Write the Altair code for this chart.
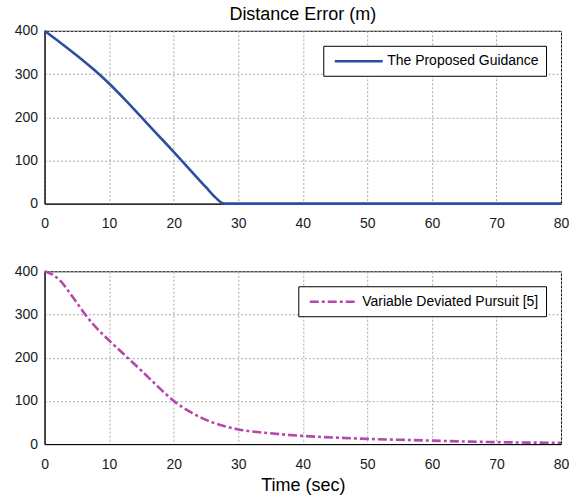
import altair as alt
import pandas as pd

# Proposed guidance (top panel)
t_prop = [0, 2.5, 5, 7.5, 10, 12.5, 15, 17.5, 20, 22.5, 25, 26.5, 27.5, 28, 30, 40, 50, 60, 70, 80]
d_prop = [400, 372, 343, 312, 278, 240, 200, 160, 120, 79, 38, 14, 1.5, 0, 0, 0, 0, 0, 0, 0]

# Variable deviated pursuit (bottom panel)
t_vdp = [0, 1.25, 2.5, 3.75, 5, 6.25, 7.5, 10, 12.5, 15, 17.5, 20, 22.5, 25, 27.5, 30, 35, 40, 45, 50, 55, 60, 65, 70, 75, 80]
d_vdp = [400, 392, 377, 353, 327, 301, 278, 240, 205, 170, 134, 100, 75, 56, 43, 34, 25, 19, 15, 12, 10, 8, 6, 4.5, 3.5, 3]

name_prop = "The Proposed Guidance"
name_vdp = "Variable Deviated Pursuit [5]"
x_ticks = [0, 10, 20, 30, 40, 50, 60, 70, 80]
y_ticks = [0, 100, 200, 300, 400]

FONT = "Liberation Sans"
W, H = 517, 173
SYMBOL = "M-0.571,0H6.286"


def panel(t, d, name, color, dash, title=None, xtitle=None):
    df = pd.DataFrame({"t": t, "d": d, "series": [name] * len(t)})
    legend = alt.Legend(
        title=None, orient="top-right", offset=15, strokeColor="black",
        fillColor="white", padding=7, symbolType=SYMBOL, symbolSize=196,
        symbolStrokeWidth=2.5, labelFontSize=14, labelFont=FONT,
        labelColor="black", labelOffset=40, cornerRadius=0, labelLimit=400,
    )
    enc = dict(
        x=alt.X("t:Q", scale=alt.Scale(domain=[0, 80], nice=False),
                axis=alt.Axis(values=x_ticks, title=xtitle, format="d", labelFlush=False)),
        y=alt.Y("d:Q", scale=alt.Scale(domain=[0, 400], nice=False),
                axis=alt.Axis(values=y_ticks, title=None, format="d", labelFlush=False)),
        color=alt.Color("series:N", scale=alt.Scale(domain=[name], range=[color]), legend=legend),
        order="t:Q",
    )
    if dash is not None:
        enc["strokeDash"] = alt.StrokeDash("series:N", scale=alt.Scale(domain=[name], range=[dash]), legend=legend)
    ch = alt.Chart(df).mark_line(strokeWidth=2.6, interpolate="monotone").encode(**enc).properties(width=W, height=H)
    if title:
        ch = ch.properties(title=alt.TitleParams(title, fontSize=18, fontWeight="normal", font=FONT,
                                                 color="black", anchor="middle", frame="group", offset=0))
    return ch


top = panel(t_prop, d_prop, name_prop, "#2b4ea2", None, title="Distance Error (m)")
bottom = panel(t_vdp, d_vdp, name_vdp, "#b548a8", [9, 3, 3, 3], xtitle="Time (sec)")

chart = alt.vconcat(top, bottom, spacing=67.7, bounds="flush").resolve_scale(
    color="independent", strokeDash="independent"
).resolve_legend(
    color="independent", strokeDash="independent"
).properties(
    padding={"left": 13.6, "top": 4.6, "right": 0, "bottom": 0},
    background="white",
).configure_axis(
    domainColor="black", domainWidth=1, ticks=False, tickSize=0,
    grid=True, gridColor="#aaaaaa", gridDash=[2, 2], gridWidth=1,
    labelFont=FONT, labelFontSize=14, labelColor="#1a1a1a",
    titleFont=FONT, titleFontSize=18, titleFontWeight="normal", titleColor="black",
).configure_axisY(labelPadding=7).configure_axisX(labelPadding=13, titlePadding=5).configure_view(
    stroke="black", strokeWidth=1
)

chart.save("out.html", embed_options={"renderer": "svg", "actions": False})
